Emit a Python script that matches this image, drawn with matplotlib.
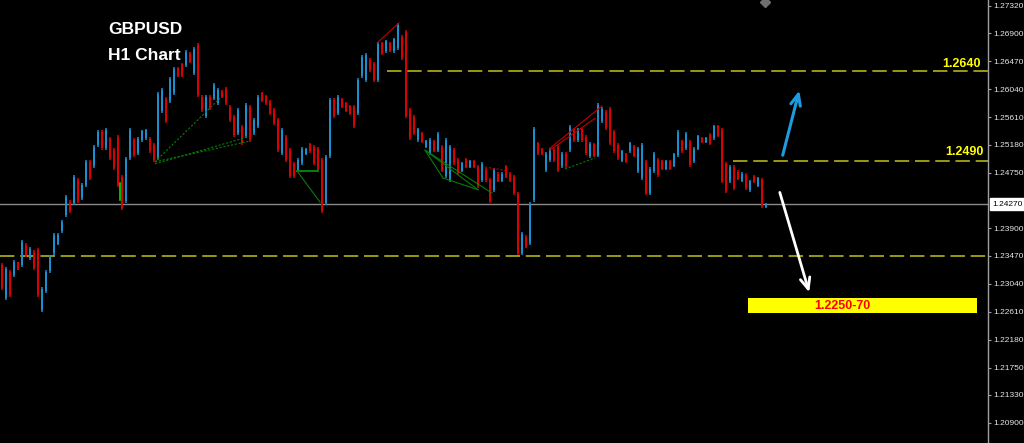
import matplotlib
matplotlib.use("Agg")
import matplotlib.pyplot as plt
import matplotlib.transforms as mtransforms
from matplotlib.patches import Rectangle
import numpy as np

# ---------------- data (GBPUSD H1) ----------------
opens = [
    1.2333, 1.2282, 1.2322, 1.2318, 1.2337, 1.2333, 1.2364, 1.2344, 1.2353, 1.2356,
    1.2264, 1.2293, 1.2324, 1.2351, 1.2366, 1.2385, 1.2410, 1.2430, 1.2429, 1.2464,
    1.2436, 1.2456, 1.2492, 1.2485, 1.2518, 1.2538, 1.2513, 1.2527, 1.2510, 1.2530,
    1.2469, 1.2432, 1.2498, 1.2526, 1.2506, 1.2525, 1.2528, 1.2527, 1.2518, 1.2498,
    1.2570, 1.2589, 1.2586, 1.2598, 1.2637, 1.2642, 1.2641, 1.2659, 1.2629, 1.2672,
    1.2592, 1.2562, 1.2592, 1.2590, 1.2583, 1.2601, 1.2604, 1.2577, 1.2561, 1.2536,
    1.2546, 1.2532, 1.2577, 1.2536, 1.2547, 1.2598, 1.2593, 1.2584, 1.2572, 1.2556,
    1.2506, 1.2530, 1.2510, 1.2489, 1.2479, 1.2490, 1.2504, 1.2519, 1.2515, 1.2512,
    1.2495, 1.2429, 1.2501, 1.2587, 1.2567, 1.2588, 1.2582, 1.2578, 1.2577, 1.2567,
    1.2624, 1.2618, 1.2649, 1.2643, 1.2618, 1.2675, 1.2662, 1.2675, 1.2662, 1.2667,
    1.2684, 1.2692, 1.2572, 1.2561, 1.2525, 1.2536, 1.2515, 1.2506, 1.2524, 1.2510,
    1.2515, 1.2470, 1.2464, 1.2510, 1.2495, 1.2478, 1.2496, 1.2484, 1.2493, 1.2484,
    1.2464, 1.2479, 1.2464, 1.2449, 1.2474, 1.2463, 1.2485, 1.2474, 1.2469, 1.2443,
    1.2351, 1.2377, 1.2367, 1.2433, 1.2521, 1.2512, 1.2479, 1.2495, 1.2510, 1.2515,
    1.2485, 1.2504, 1.2510, 1.2542, 1.2525, 1.2542, 1.2530, 1.2501, 1.2519, 1.2502,
    1.2555, 1.2569, 1.2573, 1.2538, 1.2518, 1.2494, 1.2504, 1.2508, 1.2516, 1.2478,
    1.2467, 1.2492, 1.2444, 1.2478, 1.2495, 1.2493, 1.2481, 1.2493, 1.2486, 1.2502,
    1.2524, 1.2513, 1.2523, 1.2493, 1.2512, 1.2529, 1.2522, 1.2534, 1.2528, 1.2547,
    1.2541, 1.2489, 1.2462, 1.2484, 1.2477, 1.2463, 1.2472, 1.2448, 1.2470, 1.2455,
    1.2464, 1.2423,
]
highs = [
    1.2336, 1.2330, 1.2325, 1.2341, 1.2338, 1.2372, 1.2367, 1.2361, 1.2356, 1.2359,
    1.2299, 1.2325, 1.2348, 1.2382, 1.2382, 1.2402, 1.2441, 1.2433, 1.2472, 1.2467,
    1.2459, 1.2495, 1.2495, 1.2518, 1.2541, 1.2541, 1.2544, 1.2530, 1.2513, 1.2533,
    1.2472, 1.2499, 1.2544, 1.2529, 1.2530, 1.2541, 1.2543, 1.2530, 1.2521, 1.2600,
    1.2606, 1.2592, 1.2623, 1.2638, 1.2638, 1.2644, 1.2664, 1.2661, 1.2669, 1.2675,
    1.2595, 1.2595, 1.2595, 1.2613, 1.2606, 1.2603, 1.2607, 1.2580, 1.2564, 1.2575,
    1.2549, 1.2583, 1.2580, 1.2559, 1.2595, 1.2600, 1.2595, 1.2587, 1.2575, 1.2559,
    1.2544, 1.2533, 1.2513, 1.2492, 1.2498, 1.2515, 1.2513, 1.2521, 1.2518, 1.2515,
    1.2498, 1.2503, 1.2590, 1.2590, 1.2595, 1.2590, 1.2584, 1.2580, 1.2580, 1.2621,
    1.2657, 1.2660, 1.2652, 1.2646, 1.2677, 1.2677, 1.2680, 1.2677, 1.2683, 1.2706,
    1.2687, 1.2695, 1.2575, 1.2564, 1.2544, 1.2538, 1.2526, 1.2529, 1.2526, 1.2538,
    1.2518, 1.2529, 1.2518, 1.2513, 1.2498, 1.2492, 1.2498, 1.2495, 1.2495, 1.2487,
    1.2492, 1.2482, 1.2467, 1.2482, 1.2476, 1.2476, 1.2487, 1.2476, 1.2472, 1.2446,
    1.2384, 1.2379, 1.2430, 1.2546, 1.2523, 1.2513, 1.2507, 1.2513, 1.2513, 1.2518,
    1.2507, 1.2507, 1.2549, 1.2544, 1.2544, 1.2544, 1.2533, 1.2523, 1.2521, 1.2583,
    1.2576, 1.2572, 1.2576, 1.2541, 1.2521, 1.2510, 1.2506, 1.2523, 1.2518, 1.2515,
    1.2521, 1.2495, 1.2484, 1.2507, 1.2498, 1.2495, 1.2495, 1.2495, 1.2506, 1.2541,
    1.2526, 1.2538, 1.2526, 1.2515, 1.2533, 1.2530, 1.2530, 1.2536, 1.2549, 1.2549,
    1.2544, 1.2492, 1.2487, 1.2487, 1.2479, 1.2476, 1.2475, 1.2464, 1.2472, 1.2469,
    1.2467, 1.2429,
]
lows = [
    1.2295, 1.2279, 1.2284, 1.2315, 1.2325, 1.2330, 1.2345, 1.2341, 1.2325, 1.2284,
    1.2261, 1.2290, 1.2321, 1.2348, 1.2364, 1.2382, 1.2407, 1.2413, 1.2426, 1.2429,
    1.2433, 1.2453, 1.2464, 1.2482, 1.2515, 1.2510, 1.2510, 1.2495, 1.2479, 1.2453,
    1.2418, 1.2429, 1.2495, 1.2499, 1.2503, 1.2523, 1.2526, 1.2506, 1.2492, 1.2495,
    1.2567, 1.2552, 1.2583, 1.2595, 1.2623, 1.2623, 1.2638, 1.2644, 1.2626, 1.2592,
    1.2569, 1.2559, 1.2572, 1.2587, 1.2580, 1.2590, 1.2580, 1.2553, 1.2530, 1.2533,
    1.2518, 1.2529, 1.2523, 1.2533, 1.2544, 1.2584, 1.2580, 1.2564, 1.2549, 1.2507,
    1.2503, 1.2492, 1.2467, 1.2467, 1.2476, 1.2487, 1.2503, 1.2506, 1.2487, 1.2476,
    1.2413, 1.2426, 1.2498, 1.2559, 1.2564, 1.2575, 1.2569, 1.2564, 1.2544, 1.2564,
    1.2621, 1.2615, 1.2630, 1.2615, 1.2615, 1.2657, 1.2660, 1.2661, 1.2660, 1.2664,
    1.2649, 1.2559, 1.2526, 1.2533, 1.2523, 1.2521, 1.2513, 1.2503, 1.2507, 1.2507,
    1.2476, 1.2467, 1.2461, 1.2487, 1.2472, 1.2476, 1.2482, 1.2482, 1.2482, 1.2452,
    1.2461, 1.2461, 1.2429, 1.2446, 1.2461, 1.2461, 1.2467, 1.2461, 1.2441, 1.2348,
    1.2348, 1.2359, 1.2364, 1.2430, 1.2503, 1.2503, 1.2476, 1.2492, 1.2492, 1.2476,
    1.2482, 1.2482, 1.2507, 1.2523, 1.2523, 1.2523, 1.2503, 1.2498, 1.2499, 1.2499,
    1.2552, 1.2541, 1.2518, 1.2506, 1.2495, 1.2492, 1.2490, 1.2506, 1.2499, 1.2475,
    1.2464, 1.2441, 1.2441, 1.2475, 1.2469, 1.2479, 1.2479, 1.2479, 1.2484, 1.2499,
    1.2506, 1.2510, 1.2484, 1.2490, 1.2510, 1.2521, 1.2521, 1.2518, 1.2526, 1.2530,
    1.2459, 1.2444, 1.2459, 1.2449, 1.2464, 1.2461, 1.2449, 1.2446, 1.2459, 1.2453,
    1.2421, 1.2421,
]
closes = [
    1.2298, 1.2327, 1.2287, 1.2338, 1.2326, 1.2369, 1.2348, 1.2358, 1.2328, 1.2287,
    1.2296, 1.2322, 1.2345, 1.2379, 1.2380, 1.2399, 1.2438, 1.2416, 1.2469, 1.2432,
    1.2456, 1.2492, 1.2467, 1.2515, 1.2538, 1.2513, 1.2541, 1.2498, 1.2482, 1.2456,
    1.2421, 1.2496, 1.2541, 1.2502, 1.2527, 1.2539, 1.2541, 1.2509, 1.2495, 1.2597,
    1.2603, 1.2555, 1.2620, 1.2635, 1.2624, 1.2625, 1.2661, 1.2646, 1.2666, 1.2595,
    1.2572, 1.2592, 1.2575, 1.2610, 1.2603, 1.2592, 1.2583, 1.2556, 1.2533, 1.2572,
    1.2521, 1.2580, 1.2526, 1.2556, 1.2592, 1.2586, 1.2582, 1.2567, 1.2552, 1.2510,
    1.2541, 1.2495, 1.2470, 1.2470, 1.2495, 1.2512, 1.2512, 1.2508, 1.2490, 1.2479,
    1.2416, 1.2500, 1.2587, 1.2562, 1.2592, 1.2577, 1.2571, 1.2566, 1.2547, 1.2618,
    1.2654, 1.2657, 1.2633, 1.2618, 1.2674, 1.2659, 1.2678, 1.2663, 1.2681, 1.2703,
    1.2652, 1.2562, 1.2529, 1.2536, 1.2542, 1.2523, 1.2524, 1.2526, 1.2509, 1.2535,
    1.2479, 1.2526, 1.2515, 1.2490, 1.2475, 1.2490, 1.2484, 1.2493, 1.2484, 1.2455,
    1.2489, 1.2464, 1.2432, 1.2479, 1.2463, 1.2474, 1.2469, 1.2463, 1.2444, 1.2351,
    1.2381, 1.2361, 1.2427, 1.2543, 1.2505, 1.2504, 1.2504, 1.2510, 1.2495, 1.2479,
    1.2504, 1.2485, 1.2546, 1.2525, 1.2542, 1.2525, 1.2506, 1.2520, 1.2501, 1.2580,
    1.2573, 1.2544, 1.2521, 1.2509, 1.2498, 1.2508, 1.2492, 1.2521, 1.2501, 1.2512,
    1.2518, 1.2444, 1.2481, 1.2504, 1.2472, 1.2481, 1.2493, 1.2481, 1.2504, 1.2538,
    1.2508, 1.2535, 1.2487, 1.2512, 1.2531, 1.2522, 1.2529, 1.2520, 1.2547, 1.2532,
    1.2462, 1.2447, 1.2484, 1.2452, 1.2466, 1.2474, 1.2452, 1.2462, 1.2461, 1.2467,
    1.2424, 1.2427,
]

ytick_values = [1.27320, 1.26900, 1.26470, 1.26040, 1.25610, 1.25180, 1.24750,
                1.23900, 1.23470, 1.23040, 1.22610, 1.22180, 1.21750, 1.21330, 1.20900]
current_price = 1.24270
level_upper = 1.2632      # drawn line labelled "1.2640"
level_middle = 1.2493     # drawn line labelled "1.2490"
level_lower = 1.2347
target_zone = (1.2259, 1.2282)
title_lines = ["GBPUSD", "H1 Chart"]
level_labels = ["1.2640", "1.2490"]
target_label = "1.2250-70"

# ---------------- styling ----------------
BLUE = "#1a8fcf"
RED = "#dd0000"
OLIVE = "#a6a614"
GREY_LINE = "#8a8a8a"
PATTERN_GREEN = "#0a7a0a"
PATTERN_RED = "#c00000"

plt.rcParams["font.family"] = ["Liberation Sans", "DejaVu Sans"]

fig = plt.figure(figsize=(10.24, 4.43), dpi=100, facecolor="black")
ax = fig.add_axes([0, 0, 988 / 1024, 1])
ax.set_facecolor("black")

o = np.array(opens)
h = np.array(highs)
l = np.array(lows)
c = np.array(closes)
x = np.arange(len(c))
colors = np.where(c >= o, BLUE, RED)

ax.vlines(x, l, h, colors=colors, lw=1.1, zorder=3)
body_low = np.minimum(o, c)
body_h = np.maximum(np.abs(c - o), 0.00008)
ax.bar(x, body_h, bottom=body_low, width=0.62, color=colors, linewidth=0, zorder=3)

x_left, x_right = -0.5, 246.5
ax.set_xlim(x_left, x_right)
ax.set_ylim(1.20590, 1.27412)

# current price line
ax.axhline(current_price, color=GREY_LINE, lw=1.0, zorder=2)

# support / resistance levels
dash = (0, (8, 3.2))
ax.plot([96.25, x_right], [level_upper] * 2, color=OLIVE, lw=1.3, linestyle=dash, zorder=2)
ax.plot([182.75, x_right], [level_middle] * 2, color=OLIVE, lw=1.3, linestyle=dash, zorder=2)
ax.plot([x_left, x_right], [level_lower] * 2, color=OLIVE, lw=1.3, linestyle=dash, zorder=2)

ax.text(244.75, 1.2643, level_labels[0], color="#ffff00", fontsize=9, fontweight="bold",
        ha="right", va="center", zorder=6)
ax.text(245.5, 1.2507, level_labels[1], color="#ffff00", fontsize=9, fontweight="bold",
        ha="right", va="center", zorder=6)

# target zone box
ax.add_patch(Rectangle((186.5, target_zone[0]), 243.75 - 186.5, target_zone[1] - target_zone[0],
                       facecolor="#ffff00", edgecolor="none", zorder=5))
ax.text(210.0, (target_zone[0] + target_zone[1]) / 2, target_label, color="#ff0000",
        fontsize=9, fontweight="bold", ha="center", va="center", zorder=6)

# scenario arrows
ax.annotate("", xy=(199.5, 1.2606), xytext=(195.0, 1.2498),
            arrowprops=dict(arrowstyle="->,head_length=0.8,head_width=0.35",
                            color="#1e9be0", lw=2.2), zorder=6)
ax.annotate("", xy=(202.0, 1.2287), xytext=(194.25, 1.2449),
            arrowprops=dict(arrowstyle="->,head_length=0.8,head_width=0.35",
                            color="white", lw=2.0), zorder=6)

# pattern drawings
pk = dict(lw=0.8, zorder=4)
ax.plot([38.25, 54.5], [1.2492, 1.2590], color=PATTERN_GREEN, linestyle=(0, (2, 1.5)), **pk)
ax.plot([38.25, 62.0], [1.2492, 1.2524], color=PATTERN_GREEN, linestyle=(0, (2, 1.5)), **pk)
ax.plot([38.25, 60.75], [1.2489, 1.2529], color=PATTERN_GREEN, linestyle=(0, (2, 1.5)), **pk)
ax.plot([73.75, 79.0], [1.2478, 1.2478], color=PATTERN_GREEN, lw=1.5, zorder=4)
ax.plot([73.75, 79.5], [1.2478, 1.2430], color=PATTERN_GREEN, **pk)
ax.plot([110.25, 105.75, 122.5], [1.2467, 1.2510, 1.2444], color=PATTERN_GREEN, **pk)
ax.plot([105.75, 119.0], [1.2510, 1.2449], color=PATTERN_GREEN, **pk)
ax.plot([110.25, 119.0], [1.2467, 1.2449], color=PATTERN_GREEN, **pk)
ax.plot([140.75, 148.25], [1.2481, 1.2498], color=PATTERN_GREEN, linestyle=(0, (2, 1.5)), **pk)
ax.plot([120.75, 126.5], [1.2484, 1.2478], color=PATTERN_RED, linestyle=(0, (2, 1.5)), **pk)
ax.plot([93.75, 99.25], [1.2675, 1.2706], color=PATTERN_RED, **pk)
ax.plot([137.0, 150.0], [1.2513, 1.2578], color=PATTERN_RED, **pk)
ax.plot([137.0, 148.25], [1.2510, 1.2559], color=PATTERN_RED, **pk)
ax.plot([29.5, 29.5], [1.2433, 1.2459], color="#00e000", lw=1.2, zorder=4)
ax.plot([190.75], [1.2738], marker="D", color="#707070", markersize=5, zorder=6, clip_on=True)

# title
ax.text(108 / 988, 1 - 30 / 443, title_lines[0], transform=ax.transAxes, color="white",
        fontsize=12.5, fontweight="bold", ha="left", va="center", zorder=7)
ax.text(108 / 988, 1 - 55 / 443, title_lines[1], transform=ax.transAxes, color="white",
        fontsize=12.5, fontweight="bold", ha="left", va="center", zorder=7)

# axes
for side in ["top", "left", "bottom"]:
    ax.spines[side].set_visible(False)
ax.spines["right"].set_color("#a0a0a0")
ax.spines["right"].set_linewidth(1.0)
ax.set_xticks([])
ax.yaxis.tick_right()
ax.set_yticks(ytick_values)
ax.set_yticklabels([f"{v:.5f}" for v in ytick_values])
ax.tick_params(axis="y", colors="#a0a0a0", labelcolor="#e6e6e6", length=2.5, width=0.8,
               pad=1.5, labelsize=6)

trans = mtransforms.blended_transform_factory(ax.transAxes, ax.transData)
ax.text(1.004, current_price, f"{current_price:.5f}", transform=trans, color="black",
        fontsize=6, ha="left", va="center", clip_on=False, zorder=8,
        bbox=dict(boxstyle="square,pad=0.25", facecolor="white", edgecolor="white"))

fig.savefig("out.png", dpi=100, facecolor="black")
